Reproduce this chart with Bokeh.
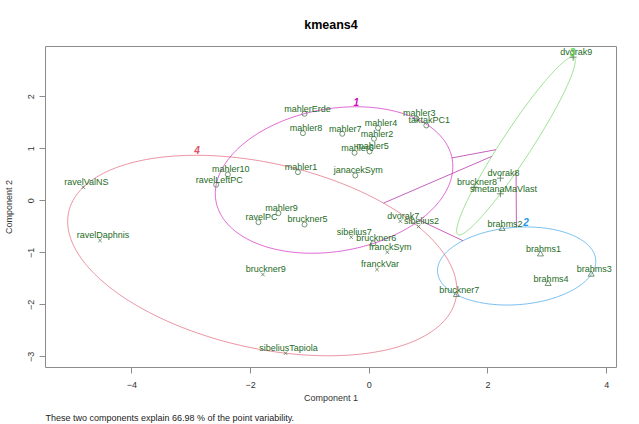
import numpy as np
from bokeh.plotting import figure
from bokeh.models import Range1d, FixedTicker, Title, ColumnDataSource
from bokeh.embed import file_html
from bokeh.resources import INLINE
from bokeh.core.properties import value

# ---------------- data ----------------
names = ["mahlerErde", "mahler8", "mahler7", "mahler4", "mahler2", "mahler6",
         "mahler5", "mahler3", "taktakPC1", "mahler10", "ravelLeftPC", "mahler1",
         "janacekSym", "mahler9", "ravelPC", "bruckner5", "bruckner6",
         "brahms1", "brahms2", "brahms3", "brahms4", "bruckner7",
         "dvorak9", "dvorak8", "bruckner8", "smetanaMaVlast",
         "ravelValNS", "ravelDaphnis", "bruckner9", "sibeliusTapiola", "sibelius7",
         "franckSym", "franckVar", "dvorak7", "sibelius2"]
comp1 = [-1.091, -1.118, -0.455, 0.147, 0.079, -0.248,
         0.005, 0.793, 0.961, -2.383, -2.580, -1.202,
         -0.236, -1.530, -1.867, -1.091, 0.067,
         2.884, 2.238, 3.739, 3.013, 1.467,
         3.435, 2.209, 1.766, 2.209,
         -4.818, -4.536, -1.793, -1.411, -0.304,
         0.304, 0.130, 0.523, 0.831]
comp2 = [1.673, 1.300, 1.288, 1.400, 1.192, 0.923,
         0.948, 1.583, 1.448, 0.506, 0.308, 0.550,
         0.487, -0.238, -0.412, -0.456, -0.821,
         -1.027, -0.538, -1.417, -1.596, -1.808,
         2.762, 0.435, 0.262, 0.135,
         0.262, -0.763, -1.417, -2.931, -0.700,
         -0.988, -1.321, -0.392, -0.494]
cluster = [1, 1, 1, 1, 1, 1,
           1, 1, 1, 1, 1, 1,
           1, 1, 1, 1, 1,
           2, 2, 2, 2, 2,
           3, 3, 3, 3,
           4, 4, 4, 4, 4,
           4, 4, 4, 4]

cluster_ids = [1, 2, 3, 4]
cluster_colors = ["#CD0BBC", "#2297E6", "#61D04F", "#DF536B"]
cluster_markers = ["circle", "triangle", "cross", "x"]

x_ticks = [-4, -2, 0, 2, 4]
y_ticks = [-3, -2, -1, 0, 1, 2]
x_limits = (-5.455, 4.165)
y_limits = (-3.206, 2.967)

title_text = "kmeans4"
x_label = "Component 1"
y_label = "Component 2"
sub_text = "These two components explain 66.98 % of the point variability."

FONT = "Liberation Sans"


# ------------- spanning ellipses (Titterington, as cluster::ellipsoidhull) -------------
def ellipsoid_hull(P, tol=0.01, maxit=5000):
    n, d = P.shape
    u = np.full(n, 1.0 / n)
    for _ in range(maxit):
        c = u @ P
        D = P - c
        S = (D.T * u) @ D
        dist = np.einsum("ij,jk,ik->i", D, np.linalg.inv(S), D)
        if dist.max() <= d + tol:
            break
        u = u * dist / d
    c = u @ P
    D = P - c
    S = (D.T * u) @ D
    dist = np.einsum("ij,jk,ik->i", D, np.linalg.inv(S), D)
    d2 = float(u @ dist)
    A = np.linalg.inv(S) / d2          # ellipse: (x-c)^T A (x-c) = 1
    return c, A


xs = np.array(comp1)
ys = np.array(comp2)
cl = np.array(cluster)
t = np.linspace(0, 2 * np.pi, 361)
centers, mats, ell_x, ell_y = [], [], [], []
for k in cluster_ids:
    P = np.column_stack([xs[cl == k], ys[cl == k]])
    c, A = ellipsoid_hull(P)
    w, V = np.linalg.eigh(A)
    pts = c[:, None] + (V * (1 / np.sqrt(w))) @ np.vstack([np.cos(t), np.sin(t)])
    centers.append(c)
    mats.append(A)
    ell_x.append(pts[0])
    ell_y.append(pts[1])

# distance lines between ellipse borders (along the line joining centres)
seg_x0, seg_y0, seg_x1, seg_y1 = [], [], [], []
for i in range(len(cluster_ids)):
    for j in range(i + 1, len(cluster_ids)):
        dv = centers[j] - centers[i]
        ti = 1 / np.sqrt(dv @ mats[i] @ dv)
        tj = 1 / np.sqrt(dv @ mats[j] @ dv)
        if ti + tj < 1:
            a = centers[i] + ti * dv
            b = centers[j] - tj * dv
            seg_x0.append(a[0]); seg_y0.append(a[1])
            seg_x1.append(b[0]); seg_y1.append(b[1])

# ---------------- figure ----------------
p = figure(frame_width=571, frame_height=321,
           x_range=Range1d(*x_limits), y_range=Range1d(*y_limits),
           output_backend="svg", toolbar_location=None,
           min_border_left=45, min_border_right=23,
           min_border_top=46, min_border_bottom=57,
           background_fill_color="white", border_fill_color="white")

p.title.text = title_text
p.title.align = "center"
p.title.vertical_align = "middle"
p.title.text_font = FONT
p.title.text_font_size = "12.5px"
p.title.text_font_style = "bold"
p.title.text_color = "#000000"
p.title.standoff = 27

p.grid.visible = False
p.outline_line_color = "#8c8c8c"
p.outline_line_width = 1

for ax, ticks in ((p.xaxis, x_ticks), (p.yaxis, y_ticks)):
    ax.ticker = FixedTicker(ticks=ticks)
    ax.axis_line_color = None
    ax.major_tick_line_color = "#8c8c8c"
    ax.major_tick_out = 6
    ax.major_tick_in = 0
    ax.minor_tick_line_color = None
    ax.major_label_text_font = FONT
    ax.major_label_text_font_size = "9px"
    ax.major_label_text_color = "#333333"
    ax.axis_label_text_font = FONT
    ax.axis_label_text_font_size = "9px"
    ax.axis_label_text_font_style = "normal"
    ax.axis_label_text_color = "#333333"
p.xaxis.axis_label = x_label
p.yaxis.axis_label = y_label
p.xaxis.major_label_standoff = 8
p.xaxis.axis_label_standoff = 2
p.yaxis.major_label_standoff = 5
p.yaxis.axis_label_standoff = 12
p.yaxis.major_label_orientation = "vertical"

p.add_layout(Title(text=sub_text, align="left", text_font=FONT,
                   text_font_size="9px", text_font_style="normal",
                   text_color="#222222", standoff=10), "below")

# ellipses
for k, ex, ey, col in zip(cluster_ids, ell_x, ell_y, cluster_colors):
    p.line(ex, ey, line_color=col, line_width=1, line_alpha=0.62)

# distance lines
p.segment(seg_x0, seg_y0, seg_x1, seg_y1, line_color="#B83AAE",
          line_width=1, line_alpha=0.8)

# points
for k, mk in zip(cluster_ids, cluster_markers):
    src = ColumnDataSource(dict(x=xs[cl == k], y=ys[cl == k]))
    size = {"circle": 5, "triangle": 6, "cross": 7, "x": 5}[mk]
    p.scatter("x", "y", source=src, marker=mk, size=size,
              line_color="#4a744a", fill_color=None, line_width=0.9,
              line_alpha=0.85)

# point labels
lab_src = ColumnDataSource(dict(x=xs, y=ys, name=names))
p.text("x", "y", text="name", source=lab_src, text_font=value(FONT),
       text_font_size="9px", text_color="#256b25", text_align="center",
       text_baseline="middle", x_offset=3, y_offset=-5)

# cluster numbers at top of each ellipse
top_x = [ex[np.argmax(ey)] for ex, ey in zip(ell_x, ell_y)]
top_y = [ey.max() for ey in ell_y]
p.text(top_x, top_y, text=[str(k) for k in cluster_ids],
       text_color=cluster_colors, text_font=value(FONT),
       text_font_size="10px", text_font_style="bold italic",
       text_align="center", text_baseline="middle", y_offset=-5)

open("out.html", "w").write(file_html(p, INLINE))
